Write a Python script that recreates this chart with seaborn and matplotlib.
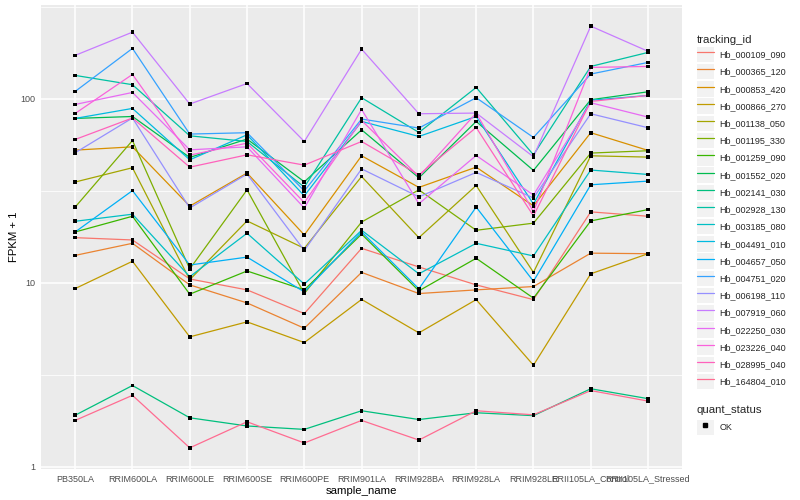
import numpy as np
import pandas as pd
import matplotlib
matplotlib.use("Agg")
import matplotlib.pyplot as plt
import seaborn as sns
from matplotlib.lines import Line2D
from matplotlib.patches import Patch
from matplotlib.legend_handler import HandlerTuple

# ── data (FPKM + 1) ──────────────────────────────────────────────────────────
samples = ["PB350LA", "RRIM600LA", "RRIM600LE", "RRIM600SE", "RRIM600PE",
           "RRIM901LA", "RRIM928BA", "RRIM928LA", "RRIM928LE",
           "RRII105LA_Control", "RRII105LA_Stressed"]

tracking_ids = ["Hb_000109_090", "Hb_000365_120", "Hb_000853_420", "Hb_000866_270",
                "Hb_001138_050", "Hb_001195_330", "Hb_001259_090", "Hb_001552_020",
                "Hb_002141_030", "Hb_002928_130", "Hb_003185_080", "Hb_004491_010",
                "Hb_004657_050", "Hb_004751_020", "Hb_006198_110", "Hb_007919_060",
                "Hb_022250_030", "Hb_023226_040", "Hb_028995_040", "Hb_164804_010"]

hb_000109_090 = [17.6, 17.1, 10.5, 9.16, 6.81, 15.4, 12.2, 9.75, 8.11, 24.3, 23.0]
hb_000365_120 = [14.1, 16.4, 9.75, 7.78, 5.67, 11.4, 8.75, 9.16, 9.55, 14.5, 14.4]
hb_000853_420 = [52.6, 54.8, 26.1, 39.5, 18.2, 49.0, 33.0, 42.5, 26.2, 65.4, 52.4]
hb_000866_270 = [9.31, 13.1, 5.09, 6.14, 4.74, 8.13, 5.35, 8.11, 3.57, 11.2, 14.4]
hb_001138_050 = [35.3, 42.2, 10.4, 21.7, 15.4, 37.8, 17.6, 33.8, 11.4, 49.0, 48.2]
hb_001195_330 = [25.8, 59.3, 11.9, 32.0, 8.75, 21.4, 32.0, 19.3, 21.1, 50.7, 52.2]
hb_001259_090 = [18.9, 23.0, 8.68, 11.6, 9.16, 18.4, 9.05, 13.6, 8.26, 21.7, 25.0]
hb_001552_020 = [78.2, 80.1, 48.0, 60.4, 35.4, 67.8, 37.2, 75.3, 40.8, 98.8, 109.1]
hb_002141_030 = [1.91, 2.77, 1.85, 1.67, 1.60, 2.02, 1.81, 1.97, 1.90, 2.66, 2.35]
hb_002928_130 = [133.9, 119.2, 62.9, 58.6, 33.1, 101.3, 65.6, 115.2, 49.6, 149.8, 178.5]
hb_003185_080 = [21.6, 23.6, 10.8, 18.6, 9.84, 19.3, 11.2, 16.4, 14.0, 41.0, 38.8]
hb_004491_010 = [78.2, 88.6, 46.6, 63.7, 29.7, 75.3, 62.4, 80.1, 26.8, 98.1, 104.2]
hb_004657_050 = [18.9, 31.7, 12.5, 13.8, 8.93, 18.9, 9.28, 25.8, 10.2, 34.1, 35.7]
hb_004751_020 = [109.6, 187.7, 64.3, 65.4, 31.6, 77.6, 69.3, 101.3, 61.6, 136.2, 157.5]
hb_006198_110 = [50.9, 78.6, 25.5, 39.0, 15.0, 41.6, 29.3, 39.8, 28.9, 82.9, 69.6]
hb_007919_060 = [172.0, 230.0, 93.6, 121.0, 58.6, 186.0, 82.9, 83.6, 48.4, 248.0, 181.0]
hb_022250_030 = [93.1, 108.2, 52.8, 54.8, 25.5, 87.5, 26.9, 49.2, 30.0, 95.1, 79.5]
hb_023226_040 = [83.2, 135.6, 49.4, 57.4, 27.3, 76.2, 37.8, 83.6, 24.4, 148.0, 149.8]
hb_028995_040 = [60.1, 78.6, 42.5, 49.6, 43.6, 58.6, 38.6, 69.8, 23.1, 96.7, 104.2]
hb_164804_010 = [1.79, 2.45, 1.27, 1.76, 1.35, 1.79, 1.40, 2.02, 1.92, 2.60, 2.28]

series = [hb_000109_090, hb_000365_120, hb_000853_420, hb_000866_270, hb_001138_050,
          hb_001195_330, hb_001259_090, hb_001552_020, hb_002141_030, hb_002928_130,
          hb_003185_080, hb_004491_010, hb_004657_050, hb_004751_020, hb_006198_110,
          hb_007919_060, hb_022250_030, hb_023226_040, hb_028995_040, hb_164804_010]

# ggplot2 default hue palette for 20 levels
colors = ["#F8766D", "#EA8331", "#D89000", "#C09B00", "#A3A500", "#7CAE00", "#39B600",
          "#00BB4E", "#00BF7D", "#00C1A3", "#00BFC4", "#00BAE0", "#00B0F6", "#35A2FF",
          "#9590FF", "#C77CFF", "#E76BF3", "#FA62DB", "#FF62BC", "#FF6C91"]

rows = []
for tid, vals in zip(tracking_ids, series):
    for s, v in zip(samples, vals):
        rows.append((tid, s, v))
df = pd.DataFrame(rows, columns=["tracking_id", "sample_name", "fpkm1"])
df["quant_status"] = "OK"
df["xpos"] = df["sample_name"].map({s: i for i, s in enumerate(samples)})

# ── style ────────────────────────────────────────────────────────────────────
sns.set_theme(style="darkgrid")
plt.rcParams["font.family"] = ["Liberation Sans", "DejaVu Sans"]
plt.rcParams["axes.facecolor"] = "#EBEBEB"

fig, ax = plt.subplots(figsize=(8, 5), dpi=100)
fig.subplots_adjust(left=0.051, right=0.853, top=0.99, bottom=0.062)

sns.lineplot(data=df, x="xpos", y="fpkm1", hue="tracking_id", hue_order=tracking_ids,
             palette=colors, sort=False, estimator=None, lw=0.9, legend=False, ax=ax)
sns.scatterplot(data=df, x="xpos", y="fpkm1", color="black", marker="s", s=7,
                edgecolor="none", legend=False, ax=ax, zorder=3)

ax.set_yscale("log")
ax.set_ylim(0.975, 323)
ax.set_xlim(-0.6, len(samples) - 0.4)
ax.set_xticks(range(len(samples)))
ax.set_xticklabels(samples)
ax.set_yticks([1, 10, 100])
ax.set_yticklabels(["1", "10", "100"])
ax.set_yticks([10 ** 0.5, 10 ** 1.5, 10 ** 2.5], minor=True)
ax.yaxis.set_minor_formatter(matplotlib.ticker.NullFormatter())

ax.grid(which="major", color="white", lw=1.1)
ax.grid(which="minor", axis="y", color="white", lw=0.55)
for sp in ax.spines.values():
    sp.set_visible(False)
ax.tick_params(axis="both", which="major", length=2.5, width=0.8, color="#333333",
               labelsize=6.5, labelcolor="#4D4D4D", pad=1.5)
ax.tick_params(which="minor", length=0)

ax.set_xlabel("sample_name", fontsize=8.2, color="black", labelpad=1.5)
ax.set_ylabel("FPKM + 1", fontsize=8.2, color="black", labelpad=1)

# ── legends ──────────────────────────────────────────────────────────────────
key_bg = "#F2F2F2"
h1 = [(Patch(facecolor=key_bg, edgecolor="none"), Line2D([], [], color=c, lw=0.9))
      for c in colors]
leg1 = fig.legend(h1, tracking_ids, title="tracking_id", loc="upper left",
                  bbox_to_anchor=(0.871, 0.93), frameon=False, fontsize=6.5,
                  title_fontsize=8.2, handlelength=1.9, handleheight=2.25,
                  labelspacing=0.2, handletextpad=0.6, borderpad=0, borderaxespad=0,
                  handler_map={tuple: HandlerTuple(ndivide=1, pad=0)})
leg1._legend_box.align = "left"

h2 = [(Patch(facecolor=key_bg, edgecolor="none"),
       Line2D([], [], color="black", marker="s", ms=2.6, lw=0))]
leg2 = fig.legend(h2, ["OK"], title="quant_status", loc="upper left",
                  bbox_to_anchor=(0.871, 0.19), frameon=False, fontsize=6.5,
                  title_fontsize=8.2, handlelength=1.9, handleheight=2.25,
                  handletextpad=0.6, borderpad=0, borderaxespad=0,
                  handler_map={tuple: HandlerTuple(ndivide=1, pad=0)})
leg2._legend_box.align = "left"

fig.savefig("out.png", dpi=100)
